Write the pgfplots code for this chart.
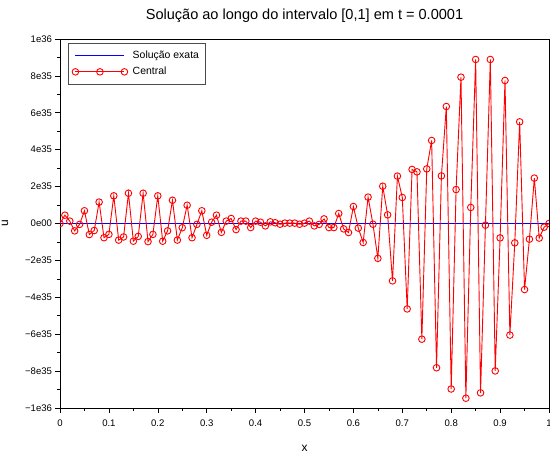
\documentclass[border=0pt]{standalone}
\usepackage{fontspec}
\setmainfont{Liberation Sans}
\usepackage{pgfplots}
\pgfplotsset{compat=1.18}
\usepackage{pgfplotstable}
\definecolor{exblue}{RGB}{0,0,255}
\definecolor{cred}{RGB}{255,0,0}
\pgfplotsset{
  exactleg/.style={legend image code/.code={\draw[exblue,##1] plot coordinates {(0bp,0bp) (49bp,0bp)};}},
  centralleg/.style={legend image code/.code={\draw[mark repeat=1,mark phase=1,##1] plot coordinates {(0bp,0bp) (24.5bp,0bp) (49bp,0bp)};}},
}
\pgfplotstableread{
x u
0.00 0
0.01 0.45e35
0.02 0.13e35
0.03 -0.40e35
0.04 -0.05e35
0.05 0.69e35
0.06 -0.60e35
0.07 -0.38e35
0.08 1.16e35
0.09 -0.77e35
0.10 -0.59e35
0.11 1.50e35
0.12 -0.90e35
0.13 -0.73e35
0.14 1.64e35
0.15 -0.96e35
0.16 -0.70e35
0.17 1.64e35
0.18 -0.98e35
0.19 -0.59e35
0.20 1.50e35
0.21 -0.96e35
0.22 -0.40e35
0.23 1.26e35
0.24 -0.90e35
0.25 -0.23e35
0.26 0.99e35
0.27 -0.77e35
0.28 -0.05e35
0.29 0.69e35
0.30 -0.64e35
0.31 0.07e35
0.32 0.45e35
0.33 -0.48e35
0.34 0.13e35
0.35 0.27e35
0.36 -0.33e35
0.37 0.13e35
0.38 0.13e35
0.39 -0.22e35
0.40 0.13e35
0.41 0.07e35
0.42 -0.13e35
0.43 0.09e35
0.44 0.04e35
0.45 -0.04e35
0.46 0.02e35
0.47 0.02e35
0.48 0.02e35
0.49 -0.04e35
0.50 0.02e35
0.51 0.13e35
0.52 -0.13e35
0.53 -0.05e35
0.54 0.25e35
0.55 -0.22e35
0.56 -0.22e35
0.57 0.54e35
0.58 -0.29e35
0.59 -0.49e35
0.60 0.92e35
0.61 -0.25e35
0.62 -1.03e35
0.63 1.43e35
0.64 -0.04e35
0.65 -1.89e35
0.66 2.02e35
0.67 0.47e35
0.68 -3.11e35
0.69 2.57e35
0.70 1.41e35
0.71 -4.63e35
0.72 2.93e35
0.73 2.80e35
0.74 -6.27e35
0.75 2.96e35
0.76 4.50e35
0.77 -7.82e35
0.78 2.58e35
0.79 6.34e35
0.80 -8.97e35
0.81 1.84e35
0.82 7.93e35
0.83 -9.47e35
0.84 0.87e35
0.85 8.89e35
0.86 -9.18e35
0.87 -0.09e35
0.88 8.89e35
0.89 -7.99e35
0.90 -0.78e35
0.91 7.75e35
0.92 -6.05e35
0.93 -1.05e35
0.94 5.51e35
0.95 -3.58e35
0.96 -0.85e35
0.97 2.46e35
0.98 -0.79e35
0.99 -0.20e35
1.00 0
}\central
\begin{document}
\begin{tikzpicture}
\begin{axis}[
  scale only axis, width=489bp, height=369bp,
  xmin=0, xmax=1, ymin=-1e36, ymax=1e36,
  xtick={0,0.1,0.2,0.3,0.4,0.5,0.6,0.7,0.8,0.9,1},
  xticklabels={0,0.1,0.2,0.3,0.4,0.5,0.6,0.7,0.8,0.9,1},
  minor x tick num=1,
  ytick={-1e36,-8e35,-6e35,-4e35,-2e35,0,2e35,4e35,6e35,8e35,1e36},
  yticklabels={−1e36,−8e35,−6e35,−4e35,−2e35,0e00,2e35,4e35,6e35,8e35,1e36},
  minor y tick num=1,
  scaled y ticks=false, scaled x ticks=false,
  tick align=outside, tick pos=left,
  major tick length=4.5bp, minor tick length=2.5bp,
  tick style={black, line width=0.6bp},
  axis line style={line width=0.7bp},
  ticklabel style={font=\fontsize{9.6}{11}\selectfont},
  xticklabel style={yshift=-3.5bp},
  title={Solução ao longo do intervalo [0,1] em t = 0.0001},
  title style={font=\fontsize{14.6}{16}\selectfont, at={(0.5,1)}, anchor=base, yshift=13.7bp},
  xlabel={x}, ylabel={u},
  xlabel style={font=\fontsize{12}{14}\selectfont, at={(axis description cs:0.5,0)}, anchor=center, yshift=-40bp},
  ylabel style={font=\fontsize{12}{14}\selectfont, at={(axis description cs:0,0.5)}, anchor=center, yshift=55bp},
  clip marker paths=true,
  legend style={at={(0.0156,0.989)}, anchor=north west, draw=black!70, fill=white,
    font=\fontsize{10.5}{12}\selectfont, inner xsep=4.3bp, inner ysep=6bp, row sep=3bp},
  legend cell align=left,
]
\addplot[color=exblue, line width=1bp, exactleg]
  coordinates {(0,0) (1,0)};
\addlegendentry{\hspace{3bp}Solução exata\hspace{14bp}}
\addplot[color=cred, line width=0.9bp, mark=o, mark size=3.3bp, mark options={fill=white, line width=0.9bp}, centralleg]
  table[x=x, y=u] {\central};
\addlegendentry{\hspace{3bp}Central}
\end{axis}
\pgfresetboundingbox
\path ([shift={(-60bp,-46bp)}]current axis.south west) rectangle ([shift={(1bp,39bp)}]current axis.north east);
\end{tikzpicture}
\end{document}
